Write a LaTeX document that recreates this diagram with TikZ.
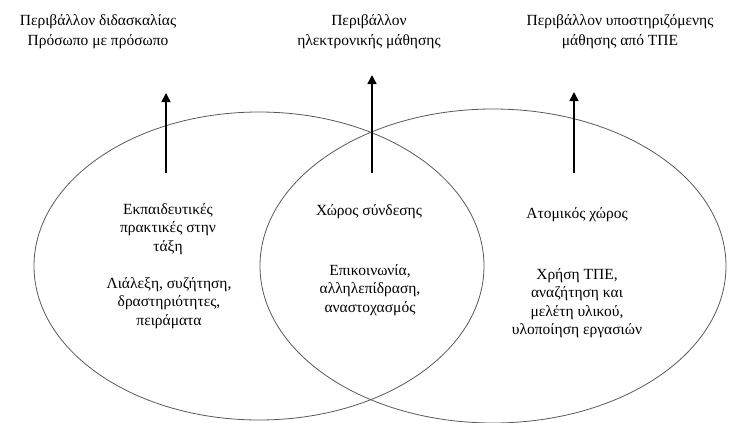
\documentclass[tikz,border=0pt]{standalone}
\usepackage{fontspec}
\setmainfont{Liberation Serif}
\usetikzlibrary{arrows.meta}
\begin{document}
\begin{tikzpicture}[x=1pt,y=-1pt,
  ring/.style={draw=black!65,line width=0.8pt},
  uparrow/.style={draw=black,line width=1.6pt,-{Triangle[length=9pt,width=9pt]}},
  lbl/.style={align=center,inner sep=0pt,font=\fontsize{15.5}{20}\selectfont},
  body/.style={align=center,inner sep=0pt,font=\fontsize{15.5}{18.5}\selectfont}]
\useasboundingbox (0,0) rectangle (734,423);
\draw[ring] (259,266) ellipse [x radius=225, y radius=154];
\draw[ring] (493,266) ellipse [x radius=233, y radius=157];
% top labels
\node[lbl] (tl) at (98,32) {Περιβάλλον διδασκαλίας\\Πρόσωπο με πρόσωπο};
\node[lbl] (tm) at (369,32) {Περιβάλλον\\ηλεκτρονικής μάθησης};
\node[lbl] (tr) at (620,32) {Περιβάλλον υποστηριζόμενης\\μάθησης από ΤΠΕ};
% arrow ends
\coordinate (al) at (166,173);
\coordinate (alt) at (166,93);
\coordinate (am) at (372,173);
\coordinate (amt) at (372,75);
\coordinate (ar) at (574,173);
\coordinate (art) at (574,92);
\draw[uparrow] (al) -- (alt);
\draw[uparrow] (am) -- (amt);
\draw[uparrow] (ar) -- (art);
% texts inside
\node[body] (l1) at (168,229) {Εκπαιδευτικές\\πρακτικές στην\\τάξη};
\node[body] (l2) at (169,303) {Λιάλεξη, συζήτηση,\\δραστηριότητες,\\πειράματα};
\node[body] (m1) at (369,212) {Χώρος σύνδεσης};
\node[body] (m2) at (370,290) {Επικοινωνία,\\αλληλεπίδραση,\\αναστοχασμός};
\node[body] (r1) at (577,215) {Ατομικός χώρος};
\node[body] (r2) at (577,303) {Χρήση ΤΠΕ,\\αναζήτηση και\\μελέτη υλικού,\\υλοποίηση εργασιών};
\end{tikzpicture}
\end{document}
